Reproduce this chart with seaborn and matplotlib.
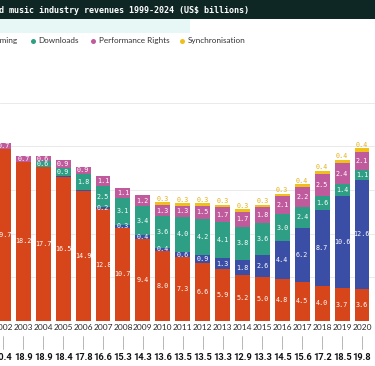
import numpy as np
import pandas as pd
import matplotlib
matplotlib.use("Agg")
import matplotlib.pyplot as plt
import matplotlib.transforms as mtrans
from matplotlib.patches import Rectangle
from matplotlib.lines import Line2D
import seaborn as sns

# ---------------- data ----------------
years = [str(y) for y in range(2002, 2021)]
physical = [19.7, 18.2, 17.7, 16.5, 14.9, 12.8, 10.7, 9.4, 8.0, 7.3, 6.6, 5.9, 5.2, 5.0, 4.8, 4.5, 4.0, 3.7, 3.6]
streaming = [0.0, 0.0, 0.0, 0.1, 0.1, 0.2, 0.3, 0.4, 0.4, 0.6, 0.9, 1.3, 1.8, 2.6, 4.4, 6.2, 8.7, 10.6, 12.6]
downloads = [0.0, 0.0, 0.6, 0.9, 1.8, 2.5, 3.1, 3.4, 3.6, 4.0, 4.2, 4.1, 3.8, 3.6, 3.0, 2.4, 1.6, 1.4, 1.1]
performance = [0.7, 0.7, 0.6, 0.9, 0.9, 1.1, 1.1, 1.2, 1.3, 1.3, 1.5, 1.7, 1.7, 1.8, 2.1, 2.2, 2.5, 2.4, 2.1]
sync = [0.0, 0.0, 0.0, 0.0, 0.0, 0.0, 0.0, 0.0, 0.3, 0.3, 0.3, 0.3, 0.3, 0.3, 0.3, 0.4, 0.4, 0.4, 0.4]
totals = ["20.4", "18.9", "18.9", "18.4", "17.8", "16.6", "15.3", "14.3", "13.6", "13.5",
          "13.5", "13.3", "12.9", "13.3", "14.5", "15.6", "17.2", "18.5", "19.8"]

series_names = ["Physical", "Streaming", "Downloads", "Performance Rights", "Synchronisation"]
colors = {"Physical": "#d6461a", "Streaming": "#3b4ea6", "Downloads": "#2e9f85",
          "Performance Rights": "#bf5a9c", "Synchronisation": "#f0c01a"}

df = pd.DataFrame({"year": years, "Physical": physical, "Streaming": streaming,
                   "Downloads": downloads, "Performance Rights": performance,
                   "Synchronisation": sync})

# ---------------- figure ----------------
sns.set_style("white")
W, H = 375, 366
fig = plt.figure(figsize=(W / 100, H / 100), dpi=100)
fig.patch.set_facecolor("white")

def fx(px):
    return px / W

def fy(py):
    return 1 - py / H

base_py = 320.7
top_py = 59.4
ax = fig.add_axes([0, fy(base_py), 1, (base_py - top_py) / H])

# stacked bars through cumulative overlays
cum = df[series_names].cumsum(axis=1)
for name in reversed(series_names):
    sns.barplot(x=df["year"], y=cum[name], order=years, color=colors[name],
                saturation=1, width=0.75, errorbar=None, ax=ax,
                edgecolor="none", linewidth=0, zorder=2)

ax.set_xlim(-0.171, 18.654)
ax.set_ylim(0, 30)
for g in [5, 10, 15, 20, 25]:
    ax.axhline(g, color="#e6e6e6", lw=0.6, zorder=0)
ax.set_axis_off()

# segment labels
for i in range(len(years)):
    bottom = 0.0
    for name in series_names[:-1]:
        v = df[name][i]
        if v >= 0.2:
            ax.text(i, bottom + v / 2, f"{v:.1f}", ha="center", va="center",
                    color="white", fontsize=4.9, family="DejaVu Sans Mono", zorder=5)
        bottom += v
    s = df["Synchronisation"][i]
    if s > 0:
        ax.text(i, bottom + s + 0.05, f"{s:.1f}", ha="center", va="bottom",
                color="#e2b21a", fontsize=4.9, family="DejaVu Sans Mono", zorder=5)

# year labels, tick lines and totals below the bars
bt = mtrans.blended_transform_factory(ax.transData, fig.transFigure)
for i, y in enumerate(years):
    ax.text(i, fy(327.5), y, transform=bt, ha="center", va="center",
            fontsize=6.0, family="Lato", color="#2a2a2a", clip_on=False)
    ax.add_line(Line2D([i, i], [fy(336), fy(349)], transform=bt, color="#9a9a9a",
                       lw=0.5, clip_on=False))
    ax.text(i, fy(357.5), totals[i], transform=bt, ha="center", va="center",
            fontsize=6.7, fontweight="bold", family="Roboto",
            color="#111111", clip_on=False)

# title bar
fig.add_artist(Rectangle((0, fy(18.5)), 1, 18.5 / H, transform=fig.transFigure,
                         facecolor="#0f2724", edgecolor="none", zorder=0))
fig.text(fx(-70.6), fy(10.5), "Global recorded music industry revenues 1999-2024 (US$ billions)",
         ha="left", va="center", color="white", fontsize=6.0, fontweight="bold",
         family="DejaVu Sans Mono")
fig.add_artist(Rectangle((0, fy(33)), fx(190), 14.5 / H, transform=fig.transFigure,
                         facecolor="#e6f7f5", edgecolor="none", zorder=0))

# legend (manual)
leg_y = fy(40.7)
fig.text(fx(17.5), leg_y, "Streaming", ha="right", va="center", fontsize=5.9,
         family="Lato", color="#333333")
legend_items = [("Downloads", 32.7, colors["Downloads"]),
                ("Performance Rights", 92.7, colors["Performance Rights"]),
                ("Synchronisation", 181.7, colors["Synchronisation"])]
for label, px, c in legend_items:
    fig.add_artist(Line2D([fx(px)], [leg_y], marker="o", markersize=3.6, color=c,
                          markeredgewidth=0, transform=fig.transFigure))
    fig.text(fx(px + 6), leg_y, label, ha="left", va="center", fontsize=5.9,
             family="Lato", color="#333333")

fig.savefig("out.png", dpi=100, facecolor="white")
